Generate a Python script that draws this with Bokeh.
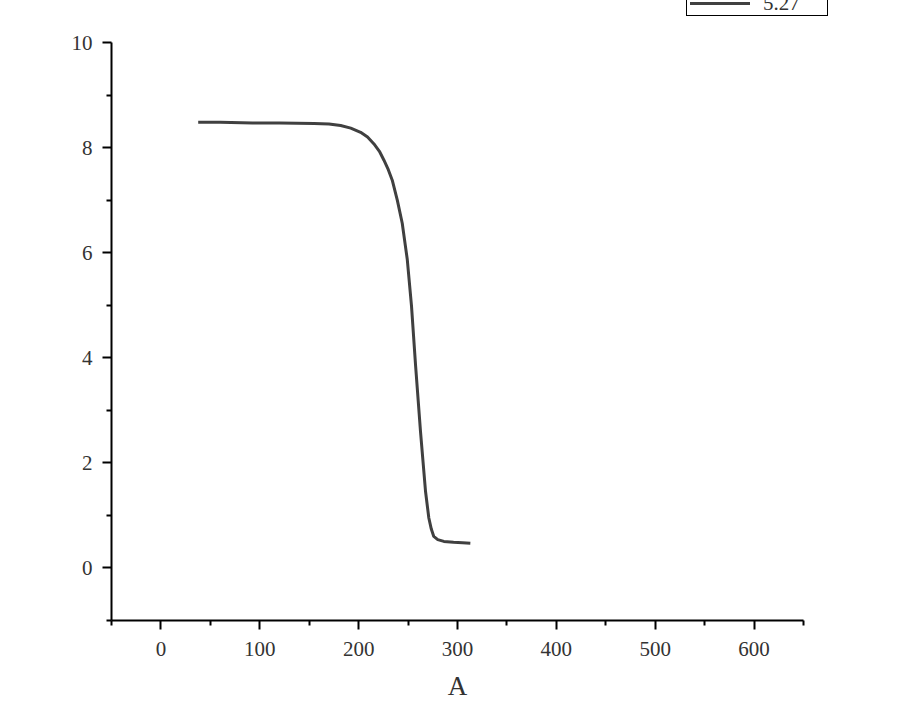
from bokeh.plotting import figure
from bokeh.layouts import column
from bokeh.models import Range1d, FixedTicker, Div
from bokeh.embed import file_html
from bokeh.resources import INLINE

x_vals = [37.7, 60, 92.6, 120, 154.9, 170, 181.8, 192, 202, 209, 215.5, 221, 225.6, 230, 234, 239.1,
          244.1, 249.2, 253.5, 257.6, 262.6, 267.7, 271, 273.5, 276, 280, 286.2, 296, 305, 313]
y_vals = [8.48, 8.48, 8.47, 8.47, 8.46, 8.45, 8.42, 8.37, 8.29, 8.20, 8.07, 7.93, 7.76, 7.58, 7.38, 7.0,
          6.56, 5.87, 4.98, 3.85, 2.59, 1.45, 0.95, 0.74, 0.60, 0.54, 0.505, 0.49, 0.48, 0.47]
series_label = "5.27"
x_major = [0, 100, 200, 300, 400, 500, 600]
x_minor = [-50, 50, 150, 250, 350, 450, 550, 650]
y_major = [0, 2, 4, 6, 8, 10]
y_minor = [-1, 1, 3, 5, 7, 9]

FONT = "Liberation Serif"
LINE_COLOR = "#404040"
TOP_H = 18

# legend strip above the plot (the reference legend box sits at the very top of the page)
legend_html = (
    f'<div style="position:relative;width:884px;height:{TOP_H}px;overflow:hidden;">'
    f'<div style="position:absolute;left:686px;top:-3px;width:142px;height:19px;'
    f'border:1px solid black;font-family:\'{FONT}\';font-size:21px;line-height:20px;color:#333333;">'
    f'<span style="position:absolute;left:3px;top:4px;width:60px;height:3px;background:{LINE_COLOR};"></span>'
    f'<span style="position:absolute;left:76px;top:-5px;">{series_label}</span>'
    '</div></div>'
)
lf = Div(text=legend_html, width=884, height=TOP_H, margin=0)

p = figure(width=884, height=703 - TOP_H, output_backend="svg", toolbar_location=None,
           x_range=Range1d(-50, 650), y_range=Range1d(-1, 10),
           min_border_left=111, min_border_right=81, min_border_top=42 - TOP_H, min_border_bottom=81)
p.outline_line_color = None
p.xgrid.visible = False
p.ygrid.visible = False

r = p.line(x_vals, y_vals, line_color=LINE_COLOR, line_width=3)

for ax in (p.xaxis[0], p.yaxis[0]):
    ax.axis_line_color = "black"
    ax.axis_line_width = 2
    ax.major_tick_line_color = "black"
    ax.major_tick_line_width = 2
    ax.minor_tick_line_color = "black"
    ax.minor_tick_line_width = 2
    ax.major_tick_out = 9
    ax.major_tick_in = 0
    ax.minor_tick_out = 5
    ax.minor_tick_in = 0
    ax.major_label_text_font = FONT
    ax.major_label_text_font_size = "21px"
    ax.major_label_text_color = "#333333"

p.xaxis[0].ticker = FixedTicker(ticks=x_major, minor_ticks=x_minor)
p.yaxis[0].ticker = FixedTicker(ticks=y_major, minor_ticks=y_minor)
p.xaxis[0].major_label_standoff = 12
p.yaxis[0].major_label_standoff = 10
p.xaxis[0].axis_label = "A"
p.xaxis[0].axis_label_text_font = FONT
p.xaxis[0].axis_label_text_font_size = "27px"
p.xaxis[0].axis_label_text_font_style = "normal"
p.xaxis[0].axis_label_text_color = "#333333"
p.xaxis[0].axis_label_standoff = 12

layout = column(lf, p, spacing=0)
open("out.html", "w").write(file_html(layout, INLINE))
